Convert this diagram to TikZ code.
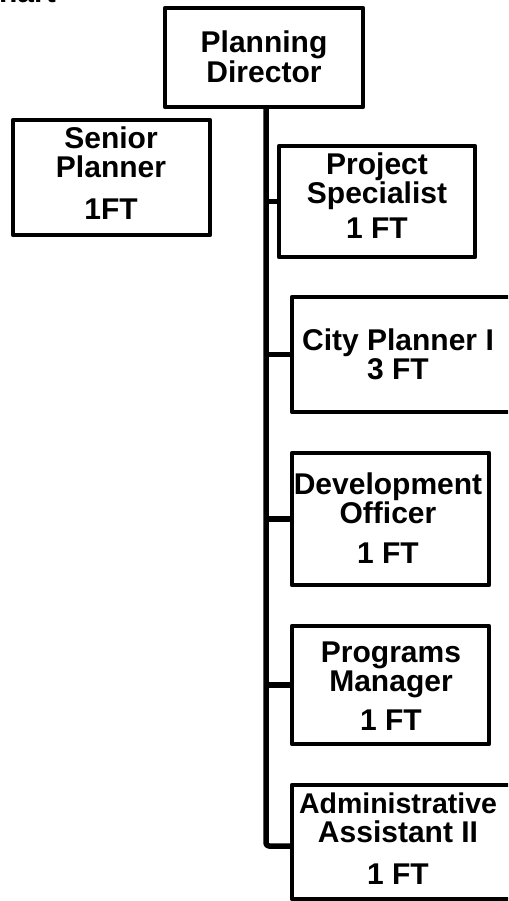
\documentclass[tikz,border=0pt]{standalone}
\usepackage{fontspec}
\setmainfont{Liberation Sans}
\begin{document}
\begin{tikzpicture}[x=1pt,y=-1pt,
  box/.style={draw=black, line width=4.5pt, line join=round, rectangle, inner sep=0pt, fill=white},
  lbl/.style={font=\fontsize{30}{31}\selectfont\bfseries, inner sep=0pt, anchor=base},
  link/.style={draw=black, line width=5.5pt, line join=round}]
\useasboundingbox (0,0) rectangle (508,901);
\fill[white] (0,0) rectangle (508,901);
\clip (0,0) rectangle (508,901);

% title, mostly above the page edge
\node[lbl, anchor=base east] (title) at (56,3) {Chart};

% positions
\node[box, minimum width=198pt, minimum height=99pt]  (dir) at (264,57.5) {};
\node[box, minimum width=197pt, minimum height=115pt] (sp)  at (111.5,177.5) {};
\node[box, minimum width=196pt, minimum height=111pt] (ps)  at (377,201.5) {};
\node[box, minimum width=238pt, minimum height=115pt] (cp)  at (411,354.5) {};
\node[box, minimum width=197pt, minimum height=132pt] (do)  at (390.5,519) {};
\node[box, minimum width=197pt, minimum height=118pt] (pm)  at (390.5,685) {};
\node[box, minimum width=238pt, minimum height=114pt] (aa)  at (411,842) {};

% labels
\node[lbl] (dir-1) at (264,53) {Planning};
\node[lbl] (dir-2) at (264,83) {Director};

\node[lbl] (sp-1) at (111,149) {Senior};
\node[lbl] (sp-2) at (111,178) {Planner};
\node[lbl] (sp-3) at (111,219) {1FT};

\node[lbl] (ps-1) at (377,175) {Project};
\node[lbl] (ps-2) at (377,204) {Specialist};
\node[lbl] (ps-3) at (377,239) {1 FT};

\node[lbl] (cp-1) at (398,350) {City Planner I};
\node[lbl] (cp-2) at (398,379) {3 FT};

\node[lbl] (do-1) at (388,494) {Development};
\node[lbl] (do-2) at (388,523) {Officer};
\node[lbl] (do-3) at (388,563) {1 FT};

\node[lbl] (pm-1) at (391,662) {Programs};
\node[lbl] (pm-2) at (391,691) {Manager};
\node[lbl] (pm-3) at (391,730) {1 FT};

\node[lbl, font=\fontsize{28.5}{30}\selectfont\bfseries] (aa-1) at (398,813) {Administrative};
\node[lbl] (aa-2) at (398,842) {Assistant II};
\node[lbl] (aa-3) at (398,884) {1 FT};

% reporting lines
\coordinate (tr) at (266,0);
\draw[link, rounded corners=3pt] (dir.south -| tr) |- ([yshift=-4pt]aa.west);
\foreach \b in {ps,cp,do,pm} \draw[link] (tr |- \b.west) -- (\b.west);
\end{tikzpicture}
\end{document}
